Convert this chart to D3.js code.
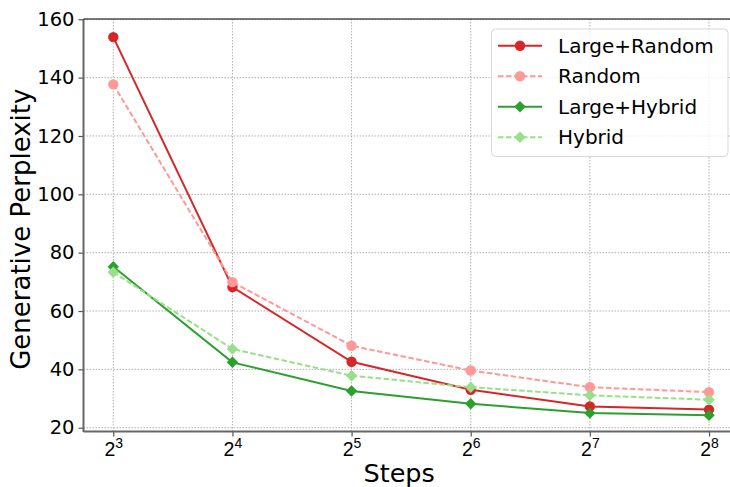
<!DOCTYPE html>
<html><head><meta charset="utf-8">
<script src="https://cdn.jsdelivr.net/npm/d3@7"></script>
<style>
html,body{margin:0;padding:0;background:#fff;overflow:hidden}
svg{display:block;font-family:"DejaVu Sans",sans-serif}
</style></head>
<body><svg id="c" width="730" height="487"></svg>
<script>
const steps = [8, 16, 32, 64, 128, 256];
const exponents = [3, 4, 5, 6, 7, 8];
const yTicks = [20, 40, 60, 80, 100, 120, 140, 160];
const largeRandom = [153.9, 68.2, 42.6, 33.0, 27.3, 26.2];
const random = [137.7, 69.9, 48.1, 39.6, 33.9, 32.2];
const largeHybrid = [75.2, 42.4, 32.6, 28.2, 25.0, 24.3];
const hybrid = [73.3, 47.0, 37.8, 33.9, 31.1, 29.6];
const seriesNames = ["Large+Random", "Random", "Large+Hybrid", "Hybrid"];

const series = [
  {name: seriesNames[0], values: largeRandom, color: "#d62728", dash: null, marker: "circle"},
  {name: seriesNames[1], values: random, color: "#ff9896", dash: "5.5,2.5", marker: "circle"},
  {name: seriesNames[2], values: largeHybrid, color: "#2ca02c", dash: null, marker: "diamond"},
  {name: seriesNames[3], values: hybrid, color: "#98df8a", dash: "5.5,2.5", marker: "diamond"}
];

const svg = d3.select("#c");
const L = 83.5, R = 738.8, T = 19, B = 431.5;
const x = d3.scaleLog().base(2).domain([Math.pow(2, 2.75), Math.pow(2, 8.25)]).range([L, R]);
const y = d3.scaleLinear().domain([18.7, 160.1]).range([B, T]);

// grid
const grid = svg.append("g");
grid.selectAll("line.gx").data(steps).enter().append("line")
  .attr("x1", d => x(d)).attr("x2", d => x(d)).attr("y1", T).attr("y2", B)
  .attr("stroke", "#b0b0b0").attr("stroke-width", 1).attr("stroke-dasharray", "1.5,1.5");
grid.selectAll("line.gy").data(yTicks).enter().append("line")
  .attr("x1", L).attr("x2", R).attr("y1", d => y(d)).attr("y2", d => y(d))
  .attr("stroke", "#b0b0b0").attr("stroke-width", 1).attr("stroke-dasharray", "1.5,1.5");

// series
const sym = {circle: d3.symbol().type(d3.symbolCircle).size(85),
             diamond: d3.symbol().type(d3.symbolSquare).size(66)};
const line = d3.line().x((d, i) => x(steps[i])).y(d => y(d));
series.forEach(s => {
  svg.append("path").attr("d", line(s.values)).attr("fill", "none")
    .attr("stroke", s.color).attr("stroke-width", 2)
    .attr("stroke-dasharray", s.dash);
  svg.append("g").selectAll("path").data(s.values).enter().append("path")
    .attr("d", sym[s.marker])
    .attr("transform", (d, i) => `translate(${x(steps[i])},${y(d)})` + (s.marker === "diamond" ? " rotate(45)" : ""))
    .attr("fill", s.color);
});

// axes
const yAxis = d3.axisLeft(y).tickValues(yTicks).tickSize(5).tickPadding(4);
const gy = svg.append("g").attr("transform", `translate(${L},0)`).call(yAxis);
gy.select(".domain").remove();
gy.selectAll(".tick line").attr("stroke", "#555").attr("stroke-width", 1.2);
gy.selectAll("text").attr("font-size", "19.5px").attr("fill", "#000").attr("font-family", "DejaVu Sans");

const xAxis = d3.axisBottom(x).tickValues(steps).tickSize(5).tickPadding(6).tickFormat(() => "");
const gx = svg.append("g").attr("transform", `translate(0,${B})`).call(xAxis);
gx.select(".domain").remove();
gx.selectAll(".tick line").attr("stroke", "#555").attr("stroke-width", 1.2);
gx.selectAll(".tick").each(function(d, i) {
  const t = d3.select(this).select("text").attr("y", 24).attr("dy", null)
    .attr("font-size", "19.5px").attr("fill", "#000").attr("text-anchor", "middle");
  t.append("tspan").text("2");
  t.append("tspan").attr("font-size", "14px").attr("dy", "-8").text(exponents[i]);
});

// spines
svg.append("line").attr("x1", L).attr("x2", L).attr("y1", T).attr("y2", B + 0.5).attr("stroke", "#666").attr("stroke-width", 2);
svg.append("line").attr("x1", L).attr("x2", R).attr("y1", B).attr("y2", B).attr("stroke", "#666").attr("stroke-width", 2);
svg.append("line").attr("x1", L).attr("x2", R).attr("y1", T).attr("y2", T).attr("stroke", "#000").attr("stroke-width", 1.2);
svg.append("line").attr("x1", R).attr("x2", R).attr("y1", T).attr("y2", B).attr("stroke", "#000").attr("stroke-width", 1.2);

// labels
svg.append("text").attr("x", (L + R) / 2 - 12).attr("y", 482).attr("text-anchor", "middle")
  .attr("font-size", "25.5px").text("Steps");
svg.append("text").attr("transform", `translate(30,${(T + B) / 2 + 4}) rotate(-90)`).attr("text-anchor", "middle")
  .attr("font-size", "26px").text("Generative Perplexity");

// legend
const lg = svg.append("g");
lg.append("rect").attr("x", 491.5).attr("y", 29).attr("width", 236.5).attr("height", 127.5)
  .attr("rx", 4).attr("fill", "#fff").attr("fill-opacity", 0.8).attr("stroke", "#d9d9d9").attr("stroke-width", 1);
series.forEach((s, i) => {
  const cy = 45.7 + i * 30.5;
  lg.append("line").attr("x1", 498).attr("x2", 542).attr("y1", cy).attr("y2", cy)
    .attr("stroke", s.color).attr("stroke-width", 2).attr("stroke-dasharray", s.dash);
  lg.append("path").attr("d", sym[s.marker])
    .attr("transform", `translate(520,${cy})` + (s.marker === "diamond" ? " rotate(45)" : ""))
    .attr("fill", s.color);
  lg.append("text").attr("x", 558).attr("y", cy + 7).attr("font-size", "20px").text(s.name);
});
</script></body></html>
